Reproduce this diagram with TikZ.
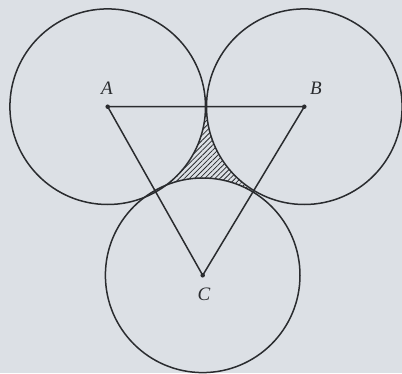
\documentclass[tikz,border=0pt]{standalone}
\usepackage{fontspec}
\setmainfont{Liberation Serif}
\usetikzlibrary{patterns.meta}
\definecolor{bg}{HTML}{DCE0E5}
\definecolor{ink}{HTML}{2A2C2F}
\begin{document}
\begin{tikzpicture}[x=1pt,y=1pt,
  circ/.style={draw=ink,line width=1.5pt},
  edge/.style={draw=ink,line width=1.5pt},
  pt/.style={circle,fill=ink,inner sep=0pt,minimum size=4.5pt},
  lab/.style={font=\fontsize{19}{20}\selectfont\itshape,text=ink}]
\fill[bg] (0,0) rectangle (402,373);
\useasboundingbox (0,0) rectangle (402,373);
\coordinate (A) at (107.7,266.3);
\coordinate (B) at (304.3,266.3);
\coordinate (C) at (202.7,97.7);
% hatched region
\begin{scope}
  \clip (A) -- (B) -- (C) -- cycle;
  \fill[pattern={Lines[angle=45,distance=3.6pt,line width=0.8pt]},pattern color=ink] (A) -- (B) -- (C) -- cycle;
  \fill[bg] (A) circle[radius=97.8];
  \fill[bg] (B) circle[radius=97.8];
  \fill[bg] (C) circle[radius=97.3];
\end{scope}
\draw[circ] (A) circle[radius=97.8];
\draw[circ] (B) circle[radius=97.8];
\draw[circ] (C) circle[radius=97.3];
\node[pt] (pA) at (A) {};
\node[pt] (pB) at (B) {};
\node[pt] (pC) at (C) {};
\draw[edge] (pA.center) -- (pB.center) -- (pC.center) -- cycle;
\node[lab] (lA) at (107,285) {A};
\node[lab] (lB) at (316,285) {B};
\node[lab] (lC) at (204,79) {C};
\end{tikzpicture}
\end{document}
